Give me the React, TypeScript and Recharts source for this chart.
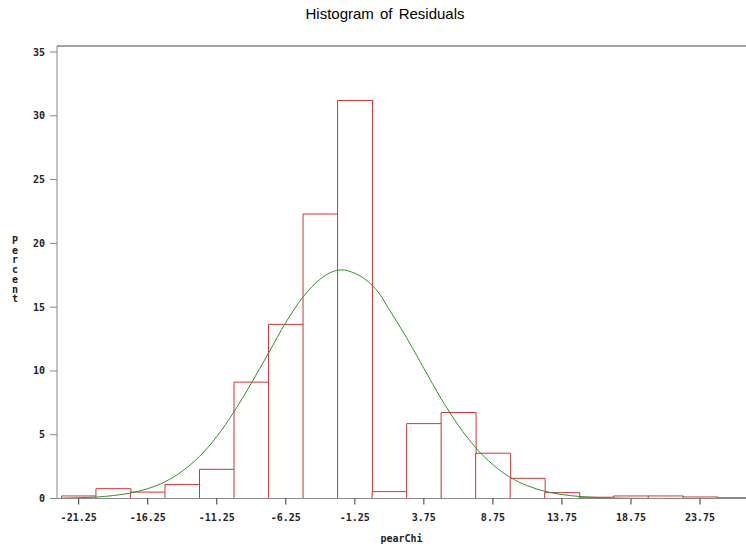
import React from 'react';
import { ComposedChart, Bar, Line, XAxis, YAxis, ReferenceLine } from 'recharts';

const binCenters = [-21.25, -18.75, -16.25, -13.75, -11.25, -8.75, -6.25, -3.75, -1.25, 1.25, 3.75, 6.25, 8.75, 11.25, 13.75, 16.25, 18.75, 21.25, 23.75, 26.25];
const binPercents = [0.2, 0.77, 0.5, 1.1, 2.29, 9.12, 13.65, 22.3, 31.2, 0.54, 5.87, 6.74, 3.55, 1.58, 0.46, 0.1, 0.2, 0.2, 0.12, 0.06];

const curveX = [-22.5, -21.25, -20, -18.75, -17.5, -16.25, -15, -13.75, -12.5, -11.25, -10, -8.75, -7.5, -6.25, -5, -3.75, -3, -2.2, -1.4, -0.5, 0.5, 1.25, 2.5, 3.75, 5, 6.25, 7.5, 8.75, 10, 11.25, 12.5, 13.75, 15, 16.25, 17.5, 18.75, 20, 22.5, 25, 27.5];
const curvePercents = [0.03, 0.06, 0.11, 0.23, 0.43, 0.77, 1.31, 2.14, 3.3, 4.85, 6.8, 9.03, 11.4, 13.8, 15.8, 17.2, 17.72, 17.92, 17.72, 17.18, 16.1, 14.8, 12.6, 10.2, 7.83, 5.73, 3.99, 2.65, 1.66, 1.0, 0.57, 0.31, 0.16, 0.08, 0.04, 0.02, 0.01, 0, 0, 0];

const xTicks = [-21.25, -16.25, -11.25, -6.25, -1.25, 3.75, 8.75, 13.75, 18.75, 23.75];
const yTicks = [0, 5, 10, 15, 20, 25, 30, 35];
const xDomain = [-22.82, 27.08];
const yDomain = [0, 35.47];

const binData = binCenters.map((x, i) => ({ x, pct: binPercents[i] }));
const curveData = curveX.map((x, i) => ({ x, density: curvePercents[i] }));

const tickFont = { fontFamily: 'DejaVu Sans Mono', fontSize: 10, fontWeight: 'bold', fill: '#222' };

export default function App() {
  return (
    <div style={{ position: 'absolute', left: 0, top: 0, width: 746, height: 546, background: '#fff' }}>
      <div style={{ position: 'absolute', left: 0, width: 770, top: 5, textAlign: 'center', fontFamily: 'Liberation Sans', fontSize: 15, color: '#000', wordSpacing: 2 }}>
        Histogram of Residuals
      </div>
      <div style={{ position: 'absolute', left: 10, top: 236, width: 10, textAlign: 'center', fontFamily: 'DejaVu Sans Mono', fontWeight: 'bold', fontSize: 10, lineHeight: '9.7px', color: '#222' }}>
        {'Percent'.split('').map((c, i) => (<div key={i}>{c}</div>))}
      </div>
      <div style={{ position: 'absolute', left: 57, width: 689, top: 533, textAlign: 'center', fontFamily: 'DejaVu Sans Mono', fontWeight: 'bold', fontSize: 10, color: '#222' }}>
        pearChi
      </div>
      <ComposedChart
        width={746}
        height={546}
        data={binData}
        margin={{ top: 46, right: 0, left: 0, bottom: 17.5 }}
        barCategoryGap={0}
        barGap={0}
      >
        <XAxis
          dataKey="x"
          type="number"
          domain={xDomain}
          allowDataOverflow
          ticks={xTicks}
          interval={0}
          tick={tickFont}
          tickSize={6}
          tickMargin={9}
          tickLine={{ stroke: '#333' }}
          axisLine={{ stroke: '#888' }}
          height={30}
        />
        <XAxis
          xAxisId="curve"
          dataKey="x"
          type="number"
          domain={xDomain}
          allowDataOverflow
          hide
        />
        <YAxis
          type="number"
          domain={yDomain}
          allowDataOverflow
          ticks={yTicks}
          interval={0}
          tick={tickFont}
          tickSize={7}
          tickMargin={5}
          tickLine={{ stroke: '#888' }}
          axisLine={{ stroke: '#888' }}
          width={57}
        />
        <ReferenceLine y={yDomain[1]} stroke="#444" strokeWidth={1} />
        <Bar dataKey="pct" fill="#fff" stroke="#c83a3a" strokeWidth={1} isAnimationActive={false} />
        <Line xAxisId="curve" data={curveData} dataKey="density" type="monotone" stroke="#2f922f" strokeWidth={1} dot={false} isAnimationActive={false} />
      </ComposedChart>
    </div>
  );
}
